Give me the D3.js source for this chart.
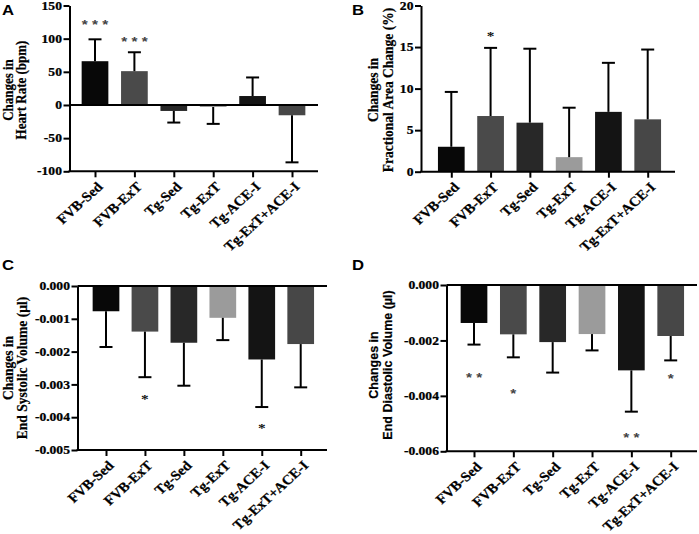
<!DOCTYPE html>
<html><head><meta charset="utf-8">
<script src="https://cdn.jsdelivr.net/npm/d3@7/dist/d3.min.js"></script>
<style>
html,body{margin:0;padding:0;background:#fff;}
svg{display:block;}
</style></head>
<body>
<svg id="chart" width="699" height="534"></svg>
<script>
// ---------------- DATA ----------------
const groups = ["FVB-Sed", "FVB-ExT", "Tg-Sed", "Tg-ExT", "Tg-ACE-I", "Tg-ExT+ACE-I"];

// Panel A: Changes in Heart Rate (bpm)
const heartRate      = [66, 51, -9, -3, 13.5, -15.5];
const heartRateErr   = [33, 28.5, 17.5, 25.5, 28, 71];
const heartRateSig   = ["* * *", "* * *", "", "", "", ""];
const heartRateSigY  = [124, 98.5, null, null, null, null];
const heartRateTicks = [150, 100, 50, 0, -50, -100];

// Panel B: Changes in Fractional Area Change (%)
const fac      = [3.0, 6.7, 5.9, 1.75, 7.2, 6.3];
const facErr   = [6.6, 8.2, 8.9, 5.95, 5.9, 8.4];
const facSig   = ["", "*", "", "", "", ""];
const facSigY  = [null, 16.6, null, null, null, null];
const facTicks = [20, 15, 10, 5, 0];

// Panel C: Changes in End Systolic Volume (µl)
const esv      = [-0.00077, -0.00139, -0.00173, -0.00097, -0.00224, -0.00177];
const esvErr   = [0.00109, 0.00139, 0.00131, 0.00068, 0.00145, 0.00132];
const esvSig   = ["", "*", "", "", "*", ""];
const esvSigY  = [null, -0.00337, null, null, -0.00426, null];
const esvTicks = [0, -0.001, -0.002, -0.003, -0.004, -0.005];

// Panel D: Changes in End Diastolic Volume (µl)
const edv      = [-0.00137, -0.00178, -0.00206, -0.00177, -0.00308, -0.00184];
const edvErr   = [0.00078, 0.00083, 0.0011, 0.00059, 0.00149, 0.00088];
const edvSig   = ["* *", "*", "", "", "* *", "*"];
const edvSigY  = [-0.00325, -0.00383, null, null, -0.00542, -0.00331];
const edvTicks = [0, -0.002, -0.004, -0.006];

// ---------------- STYLE ----------------
const barColors = ["#080808", "#4a4a4a", "#282828", "#9b9b9b", "#141414", "#474747"];
const SERIF = "'Liberation Serif','Times New Roman',serif";
const SANS = "'Liberation Sans',Arial,sans-serif";
const SX = 1.18;   // horizontal stretch of the original figure's lettering

const svg = d3.select("#chart");

const panels = [
  { letter: "A", lx: 2, ly: 15, values: heartRate, errs: heartRateErr, sig: heartRateSig, sigY: heartRateSigY,
    ticks: heartRateTicks, fmt: d => String(d), domain: [-100, 150],
    x0: 69.5, x1: 318, y0: 5.5, y1: 171.3, c0: 95, c1: 292,
    title: ["Changes in", "Heart Rate (bpm)"], tx: [13, 26], ty: 90, tfont: SERIF, tsize: 13,
    sigFont: SANS, sigColor: "#444", sigSize: 13 },
  { letter: "B", lx: 352, ly: 15, values: fac, errs: facErr, sig: facSig, sigY: facSigY,
    ticks: facTicks, fmt: d => String(d), domain: [0, 20],
    x0: 421, x1: 675, y0: 5.5, y1: 171.7, c0: 451.3, c1: 647.7,
    title: ["Changes in", "Fractional Area Change (%)"], tx: [377.5, 392.5], ty: 90, tfont: SERIF, tsize: 13.5,
    sigFont: SERIF, sigColor: "#111", sigSize: 13 },
  { letter: "C", lx: 2, ly: 270, values: esv, errs: esvErr, sig: esvSig, sigY: esvSigY,
    ticks: esvTicks, fmt: d => d.toFixed(3), domain: [-0.005, 0],
    x0: 77.5, x1: 327, y0: 286, y1: 450, c0: 106, c1: 300.7,
    title: ["Changes in", "End Systolic Volume (µl)"], tx: [13, 27], ty: 368, tfont: SERIF, tsize: 13.5,
    sigFont: SERIF, sigColor: "#111", sigSize: 13 },
  { letter: "D", lx: 352, ly: 270, values: edv, errs: edvErr, sig: edvSig, sigY: edvSigY,
    ticks: edvTicks, fmt: d => d.toFixed(3), domain: [-0.006, 0],
    x0: 446.5, x1: 697, y0: 285, y1: 451.3, c0: 474, c1: 670.7,
    title: ["Changes in", "End Diastolic Volume (µl)"], tx: [378, 392], ty: 365, tfont: SANS, tsize: 12.5,
    sigFont: SANS, sigColor: "#444", sigSize: 13 }
];

const BW = 26.7, CAP = 6.5, LW = 2, TSX = 1.06;

panels.forEach(p => {
  const g = svg.append("g");
  const y = d3.scaleLinear().domain(p.domain).range([p.y1, p.y0]);
  const x = d3.scalePoint().domain(groups).range([p.c0, p.c1]);
  const data = groups.map((k, i) => ({ k, v: p.values[i], e: p.errs[i], s: p.sig[i], sy: p.sigY[i], c: barColors[i] }));

  // bars
  g.selectAll("rect.bar").data(data).join("rect")
    .attr("class", "bar")
    .attr("x", d => x(d.k) - BW / 2)
    .attr("width", BW)
    .attr("y", d => y(Math.max(0, d.v)))
    .attr("height", d => Math.abs(y(d.v) - y(0)))
    .attr("fill", d => d.c);

  // error bars (one-sided, away from zero)
  const eg = g.selectAll("g.err").data(data).join("g").attr("class", "err");
  eg.append("line")
    .attr("x1", d => x(d.k)).attr("x2", d => x(d.k))
    .attr("y1", d => y(d.v))
    .attr("y2", d => y(d.v + Math.sign(d.v) * d.e))
    .attr("stroke", "#000").attr("stroke-width", LW);
  eg.append("line")
    .attr("x1", d => x(d.k) - CAP).attr("x2", d => x(d.k) + CAP)
    .attr("y1", d => y(d.v + Math.sign(d.v) * d.e))
    .attr("y2", d => y(d.v + Math.sign(d.v) * d.e))
    .attr("stroke", "#000").attr("stroke-width", LW);

  // significance marks
  g.selectAll("text.sig").data(data.filter(d => d.s)).join("text")
    .attr("class", "sig")
    .attr("transform", d => `translate(${x(d.k)},${y(d.sy)}) scale(${SX},1)`)
    .attr("dy", "0.5em")
    .attr("text-anchor", "middle")
    .attr("font-family", p.sigFont)
    .attr("font-weight", "bold")
    .attr("font-size", p.sigSize)
    .attr("fill", p.sigColor)
    .attr("xml:space", "preserve")
    .text(d => d.s);

  // y axis
  const ya = d3.axisLeft(y).tickValues(p.ticks).tickFormat(p.fmt).tickSize(6).tickSizeOuter(0).tickPadding(2);
  const yg = g.append("g").attr("transform", `translate(${p.x0},0)`).call(ya);
  yg.select(".domain").attr("stroke", "#000").attr("stroke-width", LW);
  yg.selectAll(".tick line").attr("stroke", "#000").attr("stroke-width", LW);
  yg.selectAll(".tick text")
    .attr("x", -7.6 / SX)
    .attr("transform", `scale(${SX},1)`)
    .attr("font-family", SERIF).attr("font-weight", "bold")
    .attr("font-size", 11.5).attr("fill", "#000")
    .attr("stroke", "#000").attr("stroke-width", 0.25);

  // zero baseline (if zero not at the bottom)
  if (p.domain[0] !== 0) {
    g.append("line").attr("x1", p.x0).attr("x2", p.x1)
      .attr("y1", y(0)).attr("y2", y(0))
      .attr("stroke", "#000").attr("stroke-width", LW);
  }

  // bottom axis with ticks at categories
  const xa = d3.axisBottom(x).tickSize(6).tickSizeOuter(0).tickFormat("");
  const xg = g.append("g").attr("transform", `translate(0,${p.y1})`).call(xa);
  xg.select(".domain").remove();
  xg.selectAll(".tick line").attr("stroke", "#000").attr("stroke-width", LW);
  g.append("line").attr("x1", p.x0 - 1).attr("x2", p.x1)
    .attr("y1", p.y1).attr("y2", p.y1)
    .attr("stroke", "#000").attr("stroke-width", LW);

  // category labels (rotated)
  g.selectAll("text.cat").data(groups).join("text")
    .attr("class", "cat")
    .attr("transform", d => `translate(${x(d) + 5},${p.y1 + 13}) scale(1.1,1) rotate(-45)`)
    .attr("text-anchor", "end")
    .attr("dy", "0.35em")
    .attr("font-family", SERIF)
    .attr("font-weight", "bold")
    .attr("font-size", 13.5)
    .attr("fill", "#000")
    .attr("stroke", "#000").attr("stroke-width", 0.25)
    .text(d => d);

  // y title (two lines)
  p.title.forEach((t, i) => {
    g.append("text")
      .attr("transform", `translate(${p.tx[i]},${p.ty}) scale(${TSX},1) rotate(-90)`)
      .attr("text-anchor", "middle")
      .attr("font-family", p.tfont)
      .attr("font-weight", "bold")
      .attr("font-size", p.tsize)
      .attr("fill", "#000")
      .attr("stroke", "#000").attr("stroke-width", 0.2)
      .text(t);
  });

  // panel letter
  g.append("text")
    .attr("transform", `translate(${p.lx},${p.ly}) scale(1.15,1)`)
    .attr("font-family", SANS)
    .attr("font-weight", "bold")
    .attr("font-size", 14.5)
    .attr("fill", "#000")
    .text(p.letter);
});
</script>
</body></html>
